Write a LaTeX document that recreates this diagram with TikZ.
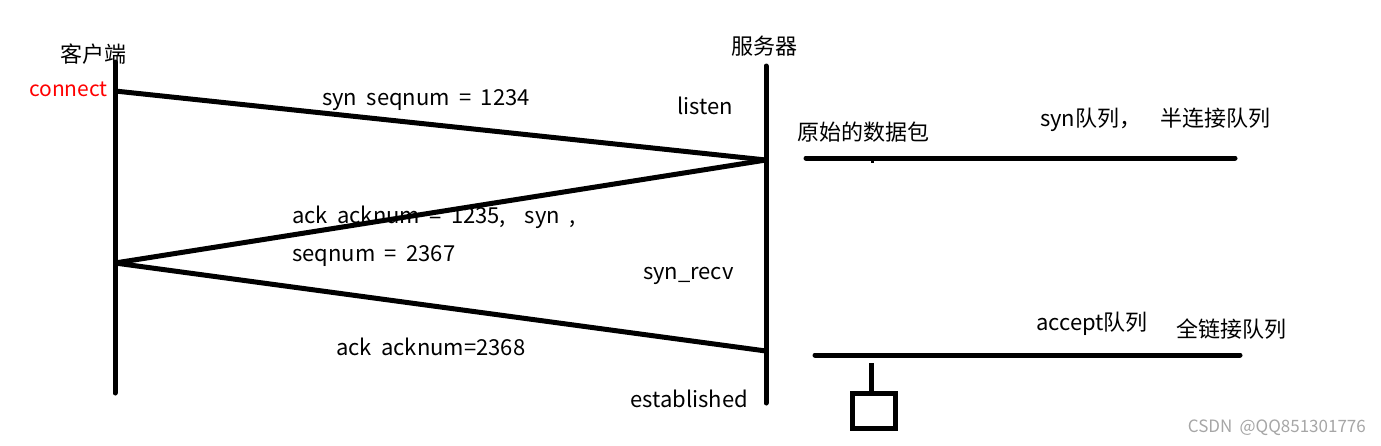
\documentclass[tikz,border=0pt]{standalone}
\usepackage{fontspec}
\setmainfont[WordSpace=1.9]{Noto Sans CJK SC}
\begin{document}
\begin{tikzpicture}[x=1pt,y=-1pt,
  lbl/.style={inner sep=0pt,font=\fontsize{22}{24}\selectfont},
  thick line/.style={line width=5pt,line cap=round},
  msg/.style={line width=5pt}]
\useasboundingbox (0,0) rectangle (1381,445);
% lifelines
\coordinate (ctop) at (115,62);
\coordinate (cbot) at (115,393);
\coordinate (stop) at (766,66);
\coordinate (sbot) at (766,403);
\draw[thick line] (ctop) -- (cbot);
\draw[thick line] (stop) -- (sbot);
\node[lbl] (client) at (93,54) {客户端};
\node[lbl] (server) at (764,46) {服务器};
\node[lbl,text=red,anchor=east,font=\fontsize{21}{22}\selectfont] (connect) at (108,89) {connect};
% messages
\coordinate (c1) at (115,91);
\coordinate (s1) at (766,160);
\coordinate (c2) at (115,263);
\coordinate (s2) at (766,351);
\draw[msg] (c1) -- (s1);
\draw[msg] (s1) -- (c2);
\draw[msg] (c2) -- (s2);
\node[lbl,anchor=west] (m1) at (322,100) {syn seqnum = 1234};
\node[lbl,anchor=west] (m2a) at (292,217) {ack acknum = 1235,\ \ syn ,};
\node[lbl,anchor=west] (m2b) at (292,256) {seqnum = 2367};
\node[lbl,anchor=west] (m3) at (336,347) {ack acknum=2368};
% states
\node[lbl,anchor=east] (listen) at (733,106) {listen};
\node[lbl,anchor=east] (synrecv) at (734,276) {syn\_recv};
\node[lbl,anchor=east] (est) at (748,399) {established};
% queues
\node[lbl,anchor=west] (raw) at (797,132) {原始的数据包};
\coordinate (q1a) at (806,158);
\coordinate (q1b) at (1235,158);
\draw[thick line] (q1a) -- (q1b);
\coordinate (tk1) at (872,158);
\coordinate (tk2) at (872,163);
\draw[line width=3pt] (tk1) -- (tk2);
\node[lbl,anchor=west] (synq) at (1040,120) {syn队列，\ \ 半连接队列};
\node[lbl,anchor=west] (accq) at (1036,324) {accept队列};
\node[lbl,anchor=west] (fullq) at (1176,329) {全链接队列};
\coordinate (q2a) at (815,355);
\coordinate (q2b) at (1240,355);
\draw[thick line] (q2a) -- (q2b);
\node[draw,line width=5pt,minimum width=43pt,minimum height=35pt,inner sep=0pt] (box) at (874,411) {};
\coordinate (hang) at (871,363);
\draw[line width=5pt] (hang) -- (box.north -| hang);
% watermark
\node[inner sep=0pt,anchor=east,text=black!35,font=\fontsize{17}{18}\selectfont] (wm) at (1366,428) {CSDN @QQ851301776};
\end{tikzpicture}
\end{document}
